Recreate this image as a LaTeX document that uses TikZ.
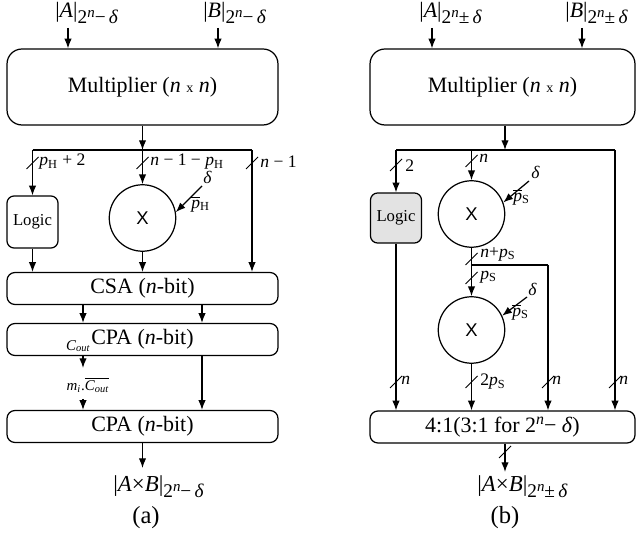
\documentclass[tikz,border=0pt]{standalone}
\usepackage{amsmath}
\usepackage{fontspec}
\setmainfont{Liberation Serif}
\setsansfont{Liberation Sans}
\usetikzlibrary{arrows.meta, positioning}

% modulus subscript 2^n -/+ delta
\newcommand{\modsub}[1]{\raisebox{-3.4pt}{\fontsize{11}{12}\selectfont 2\raisebox{3.8pt}{\fontsize{8.5}{9}\selectfont\textit{n}}#1\,\textit{δ}}}

\begin{document}
\begin{tikzpicture}[
    x=0.02cm, y=-0.02cm,
    unit/.style={
        rectangle,
        rounded corners=4.5pt,
        minimum width=5.42cm,
        minimum height=0.64cm,
        inner sep=0pt,
        draw=black,
        line width=0.7pt,
        font=\fontsize{12.5}{15}\selectfont
    },
    tall/.style={minimum height=1.52cm, rounded corners=8.5pt},
    logic/.style={
        rectangle,
        rounded corners=4pt,
        minimum width=1.02cm,
        minimum height=1.04cm,
        inner sep=0pt,
        draw=black,
        line width=0.7pt,
        font=\fontsize{9.5}{11}\selectfont
    },
    mul/.style={
        circle,
        minimum size=1.33cm,
        inner sep=0pt,
        draw=black,
        line width=0.7pt,
        font=\sffamily\fontsize{10.5}{12}\selectfont
    },
    link/.style={
        -{Latex[length=5.5pt,width=4.2pt]},
        line width=0.7pt
    },
    wire/.style={line width=0.7pt},
    tick/.style={line width=0.45pt},
    lbl/.style={anchor=west, inner sep=0pt, font=\fontsize{10}{12}\selectfont},
    io/.style={anchor=base west, inner sep=0pt, font=\fontsize{12.5}{14}\selectfont}
]
    \useasboundingbox (0,0) rectangle (636,533);

    % ---------- (a) ----------
    \node (multA) [unit, tall] at (142.5,87) {Multiplier (\textit{n} {\footnotesize x} \textit{n})};
    \node (logicA) [logic] at (32.5,222) {Logic};
    \node (mulA) [mul] at (142.5,218) {X};
    \node (csaA) [unit] at (142.5,288.5) {CSA (\textit{n}-bit)};
    \node (cpaA) [unit] at (142.5,339.5) {CPA (\textit{n}-bit)};
    \node (cpbA) [unit] at (142.5,426.5) {CPA (\textit{n}-bit)};

    \node (inAa) [io] at (55,18) {|\textit{A}|\modsub{−}};
    \node (inAb) [io] at (203,18) {|\textit{B}|\modsub{−}};
    \coordinate (a1) at (68,28);
    \coordinate (b1) at (218,28);
    \draw [link] (a1) -- (a1 |- multA.north);
    \draw [link] (b1) -- (b1 |- multA.north);

    \coordinate (jA) at (142.5,150);
    \coordinate (busAl) at (32.5,150);
    \coordinate (busAr) at (252,150);
    \draw [link] (multA.south) -- (jA);
    \draw [wire] (busAl) -- (busAr);
    \draw [link] (busAl) -- (logicA.north);
    \draw [link] (jA) -- (mulA.north);
    \draw [link] (busAr) -- (busAr |- csaA.north);
    \draw [link] (logicA.south) -- (logicA.south |- csaA.north);
    \draw [link] (mulA.south) -- (mulA.south |- csaA.north);

    \foreach \x in {32.5,142.5,252}
        \draw [tick] (\x,163) ++(-6,6) -- ++(12,-12);
    \node (wA1) [lbl] at (39,162) {\textit{p}\textsubscript{H} + 2};
    \node (wA2) [lbl] at (150,162) {\textit{n} − 1 − \textit{p}\textsubscript{H}};
    \node (wA3) [lbl] at (260,162) {\textit{n} − 1};

    \coordinate (dA) at (202,186);
    \draw [link] (dA) -- (mulA.10);
    \node (deltaA) [lbl] at (203,177) {\textit{δ}};
    \node (pbarA) [lbl] at (191,204) {$\overline{\mbox{\textit{p}}}$\textsubscript{H}};

    \draw [link] ([xshift=-1.19cm]csaA.south) -- ([xshift=-1.19cm]cpaA.north);
    \draw [link] ([xshift=1.19cm]csaA.south) -- ([xshift=1.19cm]cpaA.north);

    \node (coutA) [anchor=east, inner sep=0pt, font=\fontsize{8.5}{10}\selectfont] at (91,346) {\textit{C}\textsubscript{\textit{out}}};
    \node (mA) [inner sep=0pt, font=\fontsize{8.5}{10}\selectfont] at (88,385) {\textit{m}\textsubscript{\textit{i}}.$\overline{\mbox{\textit{C}\textsubscript{\textit{out}}}}$};
    \coordinate (cA1) at (83,368);
    \coordinate (cA2) at (83,399);
    \draw [link] (cpaA.south -| cA1) -- (cA1);
    \draw [link] (cA2) -- (cA2 |- cpbA.north);
    \draw [link] ([xshift=1.19cm]cpaA.south) -- ([xshift=1.19cm]cpbA.north);

    \coordinate (oA) at (142.5,468);
    \draw [link] (cpbA.south) -- (oA);
    \node (resA) [io, font=\fontsize{13}{15}\selectfont] at (113,492) {|\textit{A}×\textit{B}|\modsub{−}};
    \node (capA) [font=\fontsize{14}{16}\selectfont] at (146,518) {(a)};

    % ---------- (b) ----------
    \node (multB) [unit, tall, minimum width=5.30cm] at (502.5,87) {Multiplier (\textit{n} {\footnotesize x} \textit{n})};
    \node (logicB) [logic, fill=gray!22, minimum height=1.0cm] at (396,218) {Logic};
    \node (mulB) [mul] at (471.5,214) {X};
    \node (mulC) [mul] at (471.5,330) {X};
    \node (muxB) [unit, minimum width=5.30cm] at (502.5,427) {4:1(3:1 for 2\raisebox{4.5pt}{\fontsize{9}{10}\selectfont\textit{n}}− \textit{δ})};

    \node (inBa) [io] at (419,18) {|\textit{A}|\modsub{±}};
    \node (inBb) [io] at (565,18) {|\textit{B}|\modsub{±}};
    \coordinate (a2) at (432,28);
    \coordinate (b2) at (582,28);
    \draw [link] (a2) -- (a2 |- multB.north);
    \draw [link] (b2) -- (b2 |- multB.north);

    \coordinate (jB) at (505,150);
    \coordinate (jB2) at (471.5,150);
    \coordinate (busBl) at (396,150);
    \coordinate (busBr) at (615,150);
    \draw [link] (multB.south -| jB) -- (jB);
    \draw [wire] (busBl) -- (busBr);
    \draw [link] (busBl) -- (logicB.north);
    \draw [link] (jB2) -- (mulB.north);
    \draw [link] (busBr) -- (busBr |- muxB.north);
    \draw [link] (logicB.south) -- (logicB.south |- muxB.north);

    \coordinate (sB) at (471.5,265);
    \coordinate (sBr) at (548,265);
    \draw [wire] (mulB.south) -- (sB) -- (sBr);
    \draw [link] (sBr) -- (sBr |- muxB.north);
    \draw [link] (sB) -- (mulC.north);
    \draw [link] (mulC.south) -- (mulC.south |- muxB.north);

    \coordinate (dB) at (529,181);
    \draw [link] (dB) -- (mulB.20);
    \node (deltaB) [lbl] at (531,172) {\textit{δ}};
    \node (pbarB) [lbl] at (513,197) {$\overline{\mbox{\textit{p}}}$\textsubscript{S}};
    \coordinate (dC) at (527,297);
    \draw [link] (dC) -- (mulC.25);
    \node (deltaC) [lbl] at (528,289) {\textit{δ}};
    \node (pbarC) [lbl] at (512,312) {$\overline{\mbox{\textit{p}}}$\textsubscript{S}};

    \foreach \x/\y in {396/165, 471.5/161, 471.5/259, 471.5/278, 396/382, 471.5/382, 548/382, 615/382, 505/452}
        \draw [tick] (\x,\y) ++(-6,6) -- ++(12,-12);
    \node (wB1) [lbl] at (405,166) {2};
    \node (wB2) [lbl] at (479,158) {\textit{n}};
    \node (wB3) [lbl] at (480,254) {\textit{n}+\textit{p}\textsubscript{S}};
    \node (wB4) [lbl] at (480,277) {\textit{p}\textsubscript{S}};
    \node (wB5) [lbl] at (401,380) {\textit{n}};
    \node (wB6) [lbl] at (480,382) {2\textit{p}\textsubscript{S}};
    \node (wB7) [lbl] at (552,380) {\textit{n}};
    \node (wB8) [lbl] at (619,380) {\textit{n}};

    \coordinate (oB) at (505,472);
    \draw [link] (muxB.south -| oB) -- (oB);
    \node (resB) [io, font=\fontsize{13}{15}\selectfont] at (477,492) {|\textit{A}×\textit{B}|\modsub{±}};
    \node (capB) [font=\fontsize{14}{16}\selectfont] at (505,518) {(b)};

\end{tikzpicture}
\end{document}
